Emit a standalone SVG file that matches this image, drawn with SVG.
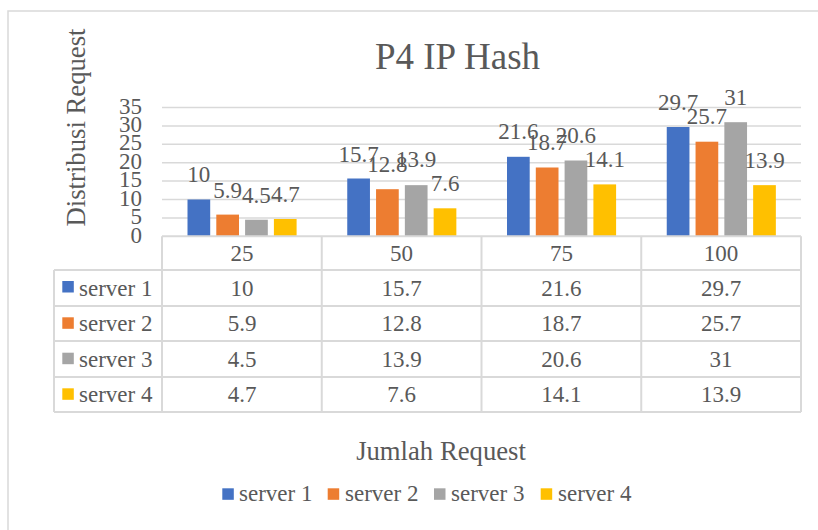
<svg xmlns="http://www.w3.org/2000/svg" width="818" height="530" viewBox="0 0 818 530">
<style>
text{font-family:"Liberation Serif","Times New Roman",serif;fill:#595959}
.t{font-size:37px;text-anchor:middle}
.ax{font-size:26.7px;text-anchor:middle}
.tk{font-size:23px;text-anchor:end}
.lb{font-size:23px;text-anchor:middle}
.tc{font-size:23px;text-anchor:middle}
.lg{font-size:23px}
.g{stroke:#d9d9d9;stroke-width:1.5;fill:none}
.tb{stroke:#d9d9d9;stroke-width:2;fill:none}
.s1{fill:#4472C4}.s2{fill:#ED7D31}.s3{fill:#A5A5A5}.s4{fill:#FFC000}
</style>
<rect x="0" y="0" width="818" height="530" fill="#fff"/>
<rect x="8" y="11" width="830" height="540" class="g"/>
<g id="title"><text class="t" x="457.5" y="69">P4 IP Hash</text></g>
<g id="y-axis-title"><text class="ax" transform="translate(85,127.5) rotate(-90)">Distribusi Request</text></g>
<g id="gridlines">
<path class="g" d="M162 107.5H801M162 125.9H801M162 144.3H801M162 162.7H801M162 181.1H801M162 199.5H801M162 217.9H801"/>
</g>
<g id="y-ticks">
<text class="tk" x="142" y="113.5">35</text>
<text class="tk" x="142" y="131.9">30</text>
<text class="tk" x="142" y="150.3">25</text>
<text class="tk" x="142" y="168.7">20</text>
<text class="tk" x="142" y="187.1">15</text>
<text class="tk" x="142" y="205.5">10</text>
<text class="tk" x="142" y="223.9">5</text>
<text class="tk" x="142" y="243.3">0</text>
</g>
<g id="bars">
<rect class="s1" x="187.5" y="199.5" width="22.7" height="36.8"/>
<rect class="s2" x="216.3" y="214.6" width="22.7" height="21.7"/>
<rect class="s3" x="245.1" y="219.7" width="22.7" height="16.6"/>
<rect class="s4" x="273.9" y="219.0" width="22.7" height="17.3"/>
<rect class="s1" x="347.25" y="178.5" width="22.7" height="57.8"/>
<rect class="s2" x="376.05" y="189.2" width="22.7" height="47.1"/>
<rect class="s3" x="404.85" y="185.15" width="22.7" height="51.15"/>
<rect class="s4" x="433.65" y="208.3" width="22.7" height="28"/>
<rect class="s1" x="507" y="156.8" width="22.7" height="79.5"/>
<rect class="s2" x="535.8" y="167.5" width="22.7" height="68.8"/>
<rect class="s3" x="564.6" y="160.5" width="22.7" height="75.8"/>
<rect class="s4" x="593.4" y="184.4" width="22.7" height="51.9"/>
<rect class="s1" x="666.75" y="127" width="22.7" height="109.3"/>
<rect class="s2" x="695.55" y="141.7" width="22.7" height="94.6"/>
<rect class="s3" x="724.35" y="122.2" width="22.7" height="114.1"/>
<rect class="s4" x="753.15" y="185.15" width="22.7" height="51.15"/>
</g>
<g id="data-labels">
<text class="lb" x="198.85" y="182">10</text>
<text class="lb" x="227.65" y="197.5">5.9</text>
<text class="lb" x="256.45" y="202.5">4.5</text>
<text class="lb" x="285.25" y="202">4.7</text>
<text class="lb" x="358.6" y="161.5">15.7</text>
<text class="lb" x="387.4" y="172">12.8</text>
<text class="lb" x="416.2" y="167">13.9</text>
<text class="lb" x="445" y="190.8">7.6</text>
<text class="lb" x="518.35" y="138.5">21.6</text>
<text class="lb" x="547.15" y="150">18.7</text>
<text class="lb" x="575.95" y="143">20.6</text>
<text class="lb" x="604.75" y="167">14.1</text>
<text class="lb" x="678.1" y="109.5">29.7</text>
<text class="lb" x="706.9" y="124">25.7</text>
<text class="lb" x="735.7" y="105">31</text>
<text class="lb" x="764.5" y="168">13.9</text>
</g>
<g id="data-table">
<path class="tb" d="M162 236.3H801M54 270H801M54 306H801M54 341H801M54 377H801M54 412H801M54 270V412M162 236.3V412M321.75 236.3V412M481.5 236.3V412M641.25 236.3V412M801 236.3V412"/>
<text class="tc" x="242" y="261">25</text>
<text class="tc" x="401.6" y="261">50</text>
<text class="tc" x="561.4" y="261">75</text>
<text class="tc" x="721.1" y="261">100</text>
<rect class="s1" x="62.3" y="281" width="11.5" height="11.5"/>
<rect class="s2" x="62.3" y="317.3" width="11.5" height="11.5"/>
<rect class="s3" x="62.3" y="352.7" width="11.5" height="11.5"/>
<rect class="s4" x="62.3" y="388.3" width="11.5" height="11.5"/>
<text class="lg" x="79" y="295.7">server 1</text>
<text class="lg" x="79" y="331">server 2</text>
<text class="lg" x="79" y="366.7">server 3</text>
<text class="lg" x="79" y="401.7">server 4</text>
<text class="tc" x="242" y="295.7">10</text>
<text class="tc" x="401.6" y="295.7">15.7</text>
<text class="tc" x="561.4" y="295.7">21.6</text>
<text class="tc" x="721.1" y="295.7">29.7</text>
<text class="tc" x="242" y="331">5.9</text>
<text class="tc" x="401.6" y="331">12.8</text>
<text class="tc" x="561.4" y="331">18.7</text>
<text class="tc" x="721.1" y="331">25.7</text>
<text class="tc" x="242" y="366.7">4.5</text>
<text class="tc" x="401.6" y="366.7">13.9</text>
<text class="tc" x="561.4" y="366.7">20.6</text>
<text class="tc" x="721.1" y="366.7">31</text>
<text class="tc" x="242" y="401.7">4.7</text>
<text class="tc" x="401.6" y="401.7">7.6</text>
<text class="tc" x="561.4" y="401.7">14.1</text>
<text class="tc" x="721.1" y="401.7">13.9</text>
</g>
<g id="x-axis-title"><text class="ax" x="441" y="459.5">Jumlah Request</text></g>
<g id="legend">
<rect class="s1" x="222.3" y="488.3" width="11.5" height="11.5"/>
<text class="lg" x="239" y="501">server 1</text>
<rect class="s2" x="327.7" y="488.3" width="11.5" height="11.5"/>
<text class="lg" x="345" y="501">server 2</text>
<rect class="s3" x="434" y="488.3" width="11.5" height="11.5"/>
<text class="lg" x="451" y="501">server 3</text>
<rect class="s4" x="540.7" y="488.3" width="11.5" height="11.5"/>
<text class="lg" x="558" y="501">server 4</text>
</g>
</svg>
